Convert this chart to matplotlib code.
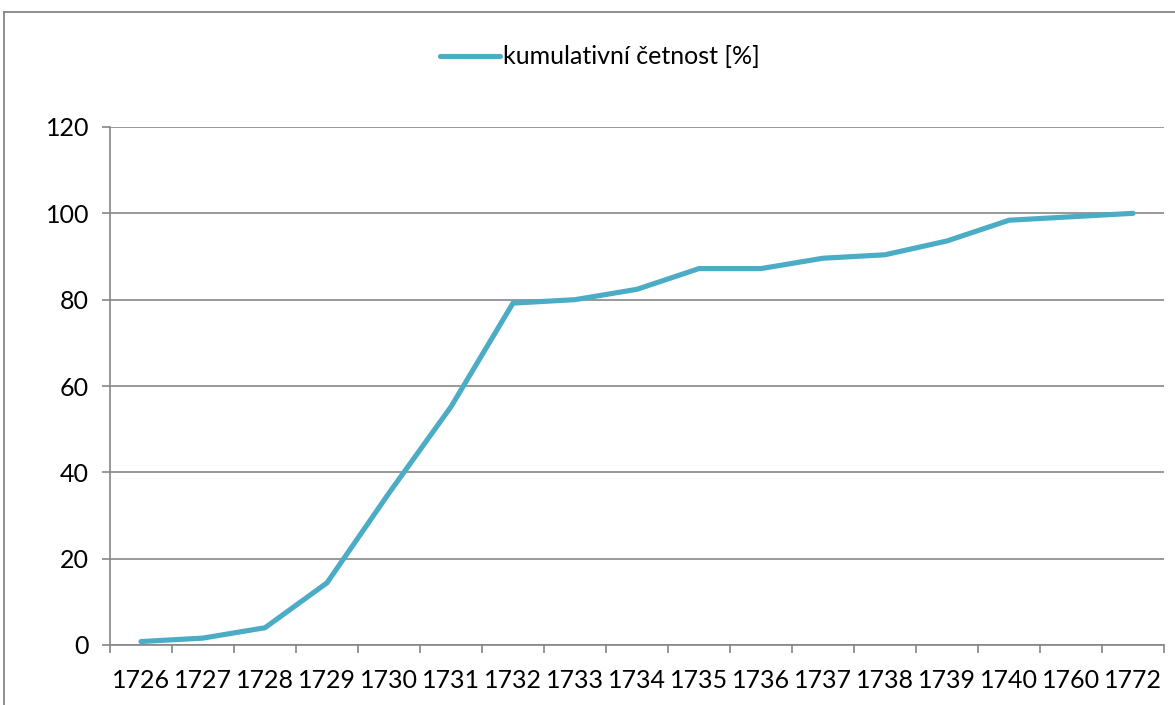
import numpy as np
import matplotlib.pyplot as plt
from matplotlib.lines import Line2D

plt.rcParams['font.family'] = ['Lato', 'DejaVu Sans']

# roky a kumulativni cetnost [%]
roky = ['1726', '1727', '1728', '1729', '1730', '1731', '1732', '1733', '1734',
        '1735', '1736', '1737', '1738', '1739', '1740', '1760', '1772']
kum_cetnost = [0.8, 1.6, 4.0, 14.4, 35.2, 55.2, 79.2, 80.0, 82.4,
               87.2, 87.2, 89.6, 90.4, 93.6, 98.4, 99.2, 100.0]
y_ticks = [0, 20, 40, 60, 80, 100, 120]

W, H = 1175, 705
seda = '#868686'
modra = '#4BACC6'
fs = 18

fig = plt.figure(figsize=(W / 100, H / 100), dpi=100)
ax = fig.add_axes([110 / W, 1 - 645 / H, (1164 - 110) / W, (645 - 127) / H])

x = np.arange(len(roky))
ax.plot(x, kum_cetnost, color=modra, lw=3.7, solid_capstyle='round',
        solid_joinstyle='miter', label='kumulativní četnost [%]', zorder=3)

ax.set_xlim(-0.5, len(roky) - 0.5)
ax.set_ylim(0, 120)

# mrizka a osy
ax.set_yticks(y_ticks)
ax.set_yticklabels([str(t) for t in y_ticks])
ax.yaxis.grid(True, color=seda, lw=1.2)
ax.set_axisbelow(True)
for s in ['top', 'right']:
    ax.spines[s].set_visible(False)
for s in ['left', 'bottom']:
    ax.spines[s].set_color(seda)
    ax.spines[s].set_linewidth(1.2)

ax.set_xticks(np.arange(len(roky) + 1) - 0.5)
ax.set_xticklabels([])
ax.set_xticks(x, minor=True)
ax.set_xticklabels(roky, minor=True)
ax.tick_params(axis='x', which='major', length=6, width=1.2, color=seda)
ax.tick_params(axis='x', which='minor', length=0, pad=17, labelsize=fs)
ax.tick_params(axis='y', length=6, width=1.2, color=seda, pad=9, labelsize=fs)

leg = fig.legend(handles=[Line2D([], [], color=modra, lw=3.7, solid_capstyle='round')],
                 labels=['kumulativní četnost [%]'], loc='center',
                 bbox_to_anchor=(600 / W, 1 - 57 / H), frameon=False,
                 fontsize=fs, handlelength=2.4, handletextpad=0.1)

# vnejsi ramecek grafu
fig.add_artist(Line2D([4 / W, 1], [1 - 12 / H, 1 - 12 / H], color=seda, lw=1.3))
fig.add_artist(Line2D([4 / W, 4 / W], [0, 1 - 12 / H], color=seda, lw=1.3))

fig.savefig('out.png', dpi=100)
